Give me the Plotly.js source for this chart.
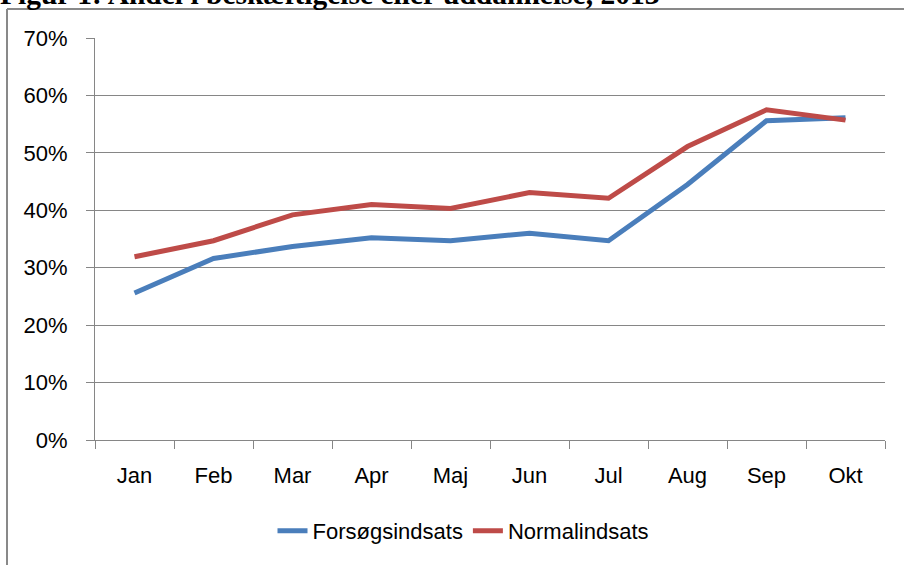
<!DOCTYPE html>
<html>
<head>
<meta charset="utf-8">
<script src="https://cdn.plot.ly/plotly-3.0.1.min.js"></script>
<style>
  html, body { margin: 0; padding: 0; background: #fff; }
  #chart { width: 904px; height: 565px; }
</style>
</head>
<body>
<div id="chart"></div>
<script>
const months = ["Jan", "Feb", "Mar", "Apr", "Maj", "Jun", "Jul", "Aug", "Sep", "Okt"];
const forsoegsindsats = [0.256, 0.316, 0.337, 0.352, 0.347, 0.360, 0.347, 0.445, 0.556, 0.561];
const normalindsats = [0.319, 0.347, 0.392, 0.410, 0.403, 0.431, 0.421, 0.511, 0.575, 0.557];
const seriesNames = ["Forsøgsindsats", "Normalindsats"];
const titleText = "Figur 1: Andel i beskæftigelse eller uddannelse, 2013";

const W = 904, H = 565;
const mL = 95, mR = 19, mT = 38, mB = 125;
const pw = W - mL - mR, ph = H - mT - mB;
const px2x = p => (p - mL) / pw;
const py2y = p => (H - mB - p) / ph;

const grey = "#868686";
const font = "Liberation Sans, Arial, sans-serif";

const traces = [
  { x: months, y: forsoegsindsats, name: seriesNames[0], type: "scatter", mode: "lines",
    line: { color: "#4A7EBB", width: 5 } },
  { x: months, y: normalindsats, name: seriesNames[1], type: "scatter", mode: "lines",
    line: { color: "#BE4B48", width: 5 } }
];

const layout = {
  width: W, height: H,
  margin: { l: mL, r: mR, t: mT, b: mB, pad: 0 },
  paper_bgcolor: "#fff", plot_bgcolor: "#fff",
  font: { family: font, size: 22, color: "#000" },
  title: {
    text: "<b>" + titleText + "</b>",
    font: { family: "Liberation Serif, Times New Roman, serif", size: 29.5, color: "#000" },
    x: 0, xref: "container", xanchor: "left",
    y: 1 - 4 / H, yref: "container", yanchor: "bottom"
  },
  xaxis: {
    type: "category", range: [-0.5, months.length - 0.5],
    showgrid: false, zeroline: false,
    showline: true, linecolor: grey, linewidth: 1,
    ticks: "outside", tickson: "boundaries", ticklen: 8, tickcolor: grey, tickwidth: 1,
    ticklabelstandoff: 16,
    tickfont: { family: font, size: 22, color: "#000" },
    fixedrange: true
  },
  yaxis: {
    range: [0, 0.7], dtick: 0.1, tick0: 0, tickformat: ".0%",
    showgrid: true, gridcolor: grey, gridwidth: 1, zeroline: false,
    showline: true, linecolor: grey, linewidth: 1,
    ticks: "outside", ticklen: 8, tickcolor: grey, tickwidth: 1,
    ticklabelstandoff: 14,
    tickfont: { family: font, size: 22, color: "#000" },
    fixedrange: true
  },
  showlegend: true,
  legend: {
    orientation: "h", x: px2x(463), xanchor: "center", y: py2y(531), yanchor: "middle",
    font: { family: font, size: 22, color: "#000" },
    bgcolor: "rgba(0,0,0,0)", itemwidth: 30
  },
  shapes: [
    { type: "line", xref: "paper", yref: "paper", x0: px2x(7), x1: px2x(7), y0: py2y(9), y1: py2y(575),
      line: { color: "#898989", width: 2 } },
    { type: "line", xref: "paper", yref: "paper", x0: px2x(7), x1: px2x(915), y0: py2y(9), y1: py2y(9),
      line: { color: "#898989", width: 2 } }
  ]
};

Plotly.newPlot("chart", traces, layout, { displayModeBar: false, staticPlot: true });
</script>
</body>
</html>
